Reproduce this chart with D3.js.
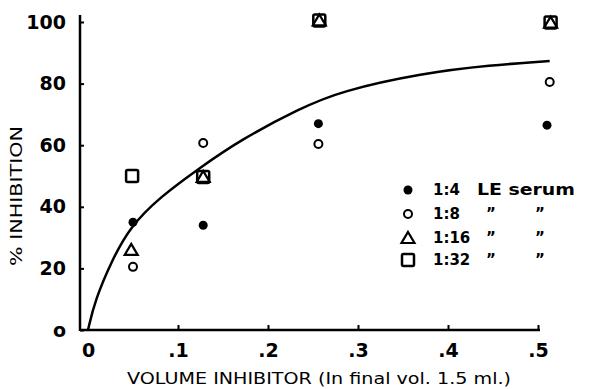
<!DOCTYPE html>
<html><head><meta charset="utf-8">
<script src="https://cdn.jsdelivr.net/npm/d3@7"></script>
<style>body{margin:0;background:#fff}svg{display:block}text{font-family:"DejaVu Sans",sans-serif;fill:#000}</style>
</head><body><svg id="c" width="590" height="389"></svg>
<script>
const xTicks = [0, 0.1, 0.2, 0.3, 0.4, 0.5];
const xTickLabels = ["0", ".1", ".2", ".3", ".4", ".5"];
const yTicks = [0, 20, 40, 60, 80, 100];
const yTickLabels = ["o", "20", "40", "60", "80", "100"];
const serum14 = [[0.05, 35], [0.128, 34], [0.256, 67], [0.51, 66.5]];
const serum18 = [[0.05, 20.5], [0.128, 60.7], [0.256, 60.4], [0.513, 80.5]];
const serum116 = [[0.048, 26], [0.128, 49.7], [0.257, 100.5], [0.514, 99.8]];
const serum132 = [[0.049, 50], [0.128, 49.7], [0.257, 100.5], [0.514, 99.8]];
const fitCurve = [[0,0],[0.0078,9.7],[0.0267,22.7],[0.0467,33.5],[0.08,43.2],[0.124,52.6],[0.169,61.7],[0.236,72],[0.28,77.5],[0.372,83.4],[0.447,86],[0.513,87.3]];
const legendLabels = ["1:4", "1:8", "1:16", "1:32"];

const svg = d3.select("#c");
const x = d3.scaleLinear().domain([0, 0.5]).range([88, 538]);
const y = d3.scaleLinear().domain([0, 100]).range([330, 22]);

// axes
const xAxis = d3.axisBottom(x).tickValues(xTicks).tickSize(-5).tickFormat((d,i)=>xTickLabels[i]).tickPadding(10);
const gx = svg.append("g").attr("transform","translate(0,330)").call(xAxis);
gx.select(".domain").remove();
gx.selectAll("line").attr("stroke","#000").attr("stroke-width",2).filter((d,i)=>i===0).remove();
gx.selectAll("text").attr("font-size",19).attr("font-weight","bold").attr("dy","0.9em");
svg.append("line").attr("x1",80).attr("x2",540).attr("y1",330).attr("y2",330).attr("stroke","#000").attr("stroke-width",2.5);

const yAxis = d3.axisLeft(y).tickValues(yTicks).tickSize(-4).tickFormat((d,i)=>yTickLabels[i]).tickPadding(14);
const gy = svg.append("g").attr("transform","translate(80,0)").call(yAxis);
gy.select(".domain").remove();
gy.selectAll("line").attr("stroke","#000").attr("stroke-width",2);
gy.selectAll("text").attr("font-size",19).attr("font-weight","bold");
svg.append("line").attr("x1",80).attr("x2",80).attr("y1",15).attr("y2",331).attr("stroke","#000").attr("stroke-width",2.5);

// titles
svg.append("text").attr("x",319).attr("y",384).attr("text-anchor","middle").attr("font-size",15)
  .attr("textLength",384).attr("lengthAdjust","spacingAndGlyphs").text("VOLUME INHIBITOR (In final vol. 1.5 ml.)");
svg.append("text").attr("transform","translate(22,196) rotate(-90)").attr("text-anchor","middle").attr("font-size",15)
  .attr("textLength",140).attr("lengthAdjust","spacingAndGlyphs").text("% INHIBITION");

// curve
svg.append("path").datum(fitCurve).attr("fill","none").attr("stroke","#000").attr("stroke-width",2.5)
  .attr("d", d3.line().x(d=>x(d[0])).y(d=>y(d[1])).curve(d3.curveBasis));

// markers
const sym = {
  filled: g => g.append("circle").attr("r",4.5).attr("fill","#000"),
  open: g => g.append("circle").attr("r",4).attr("fill","#fff").attr("stroke","#000").attr("stroke-width",2),
  tri: g => g.append("path").attr("d","M0,-6L6.5,5L-6.5,5Z").attr("fill","none").attr("stroke","#000").attr("stroke-width",2.2),
  sq: g => g.append("rect").attr("x",-6).attr("y",-6).attr("width",12).attr("height",12).attr("rx",1.5).attr("fill","none").attr("stroke","#000").attr("stroke-width",2.5)
};
function plot(data, kind){
  data.forEach(d=>{
    const g = svg.append("g").attr("transform",`translate(${x(d[0])},${y(d[1])})`);
    sym[kind](g);
  });
}
plot(serum132,"sq");
plot(serum116,"tri");
plot(serum14,"filled");
plot(serum18,"open");

// legend
const legY = [190, 214, 238, 260];
const kinds = ["filled","open","tri","sq"];
legendLabels.forEach((lab,i)=>{
  const g = svg.append("g").attr("transform",`translate(408,${legY[i]})`);
  sym[kinds[i]](g);
  svg.append("text").attr("x",433).attr("y",legY[i]+5).attr("font-size",15).attr("font-weight","bold").text(lab);
  if(i===0){
    svg.append("text").attr("x",477).attr("y",legY[i]+5).attr("font-size",15).attr("font-weight","bold")
      .attr("textLength",98).attr("lengthAdjust","spacingAndGlyphs").text("LE serum");
  } else {
    svg.append("text").attr("x",486).attr("y",legY[i]+5).attr("font-size",15).attr("font-weight","bold").text("\u201D");
    svg.append("text").attr("x",535).attr("y",legY[i]+5).attr("font-size",15).attr("font-weight","bold").text("\u201D");
  }
});
</script></body></html>
